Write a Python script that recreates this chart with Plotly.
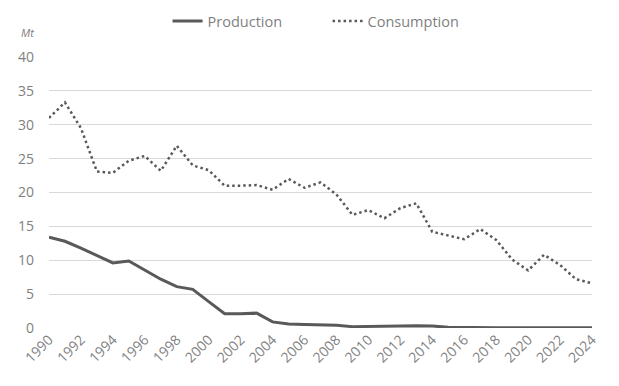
import plotly.graph_objects as go

years = list(range(1990, 2025))
production = [13.4, 12.8, 11.8, 10.7, 9.6, 9.9, 8.6, 7.2, 6.1, 5.7,
              3.9, 2.1, 2.1, 2.2, 0.9, 0.6, 0.5, 0.5, 0.4, 0.2,
              0.2, 0.2, 0.3, 0.35, 0.3, 0.1, 0.05, 0.05, 0.05, 0.05,
              0.05, 0.05, 0.05, 0.05, 0.05]
consumption = [31.0, 33.3, 29.5, 23.1, 22.9, 24.7, 25.4, 23.2, 26.9, 24.0,
               23.3, 21.0, 21.0, 21.1, 20.4, 22.0, 20.7, 21.5, 19.7, 16.7,
               17.4, 16.2, 17.7, 18.4, 14.2, 13.6, 13.1, 14.6, 13.0, 10.1,
               8.5, 10.8, 9.3, 7.2, 6.6]
y_ticks = [0, 5, 10, 15, 20, 25, 30, 35, 40]
x_ticks = years[::2]

LINE = "#595959"
TXT = "#7f7f7f"
FONT = "Open Sans"

fig = go.Figure()
fig.add_trace(go.Scatter(x=years, y=production, name="Production", mode="lines",
                         line=dict(color=LINE, width=3)))
fig.add_trace(go.Scatter(x=years, y=consumption, name="Consumption", mode="lines",
                         line=dict(color=LINE, width=2.5, dash="2.5px,3px")))

# page body has an 8px default margin, so the figure is drawn 8px smaller
fig.update_layout(
    width=611, height=378,
    margin=dict(l=41, r=27, t=49, b=58, autoexpand=False),
    paper_bgcolor="white", plot_bgcolor="white",
    font=dict(family=FONT, color=TXT, size=13),
    showlegend=True,
    legend=dict(orientation="h", x=0.513, xanchor="center",
                yref="container", y=1 - 13 / 378, yanchor="middle",
                entrywidth=115, entrywidthmode="pixels",
                font=dict(size=14.5, color=TXT), traceorder="normal"),
    xaxis=dict(range=[1990, 2024], tickmode="array", tickvals=x_ticks,
               ticktext=[str(y) for y in x_ticks], tickangle=-45,
               showgrid=False, zeroline=False, showline=False, automargin=False,
               tickfont=dict(size=14, color=TXT), ticks=""),
    yaxis=dict(range=[0, 40], tickvals=y_ticks, showgrid=True, gridcolor="#d9d9d9",
               gridwidth=1, zeroline=False, showline=False, ticks="", automargin=False,
               tickfont=dict(size=14, color=TXT), ticklabelstandoff=14),
    annotations=[dict(text="<i>Mt</i>", xref="paper", yref="paper", x=-0.024, y=1.089,
                      xanchor="right", yanchor="middle", showarrow=False,
                      font=dict(size=11, color=TXT))],
)

fig.write_html("out.html")
